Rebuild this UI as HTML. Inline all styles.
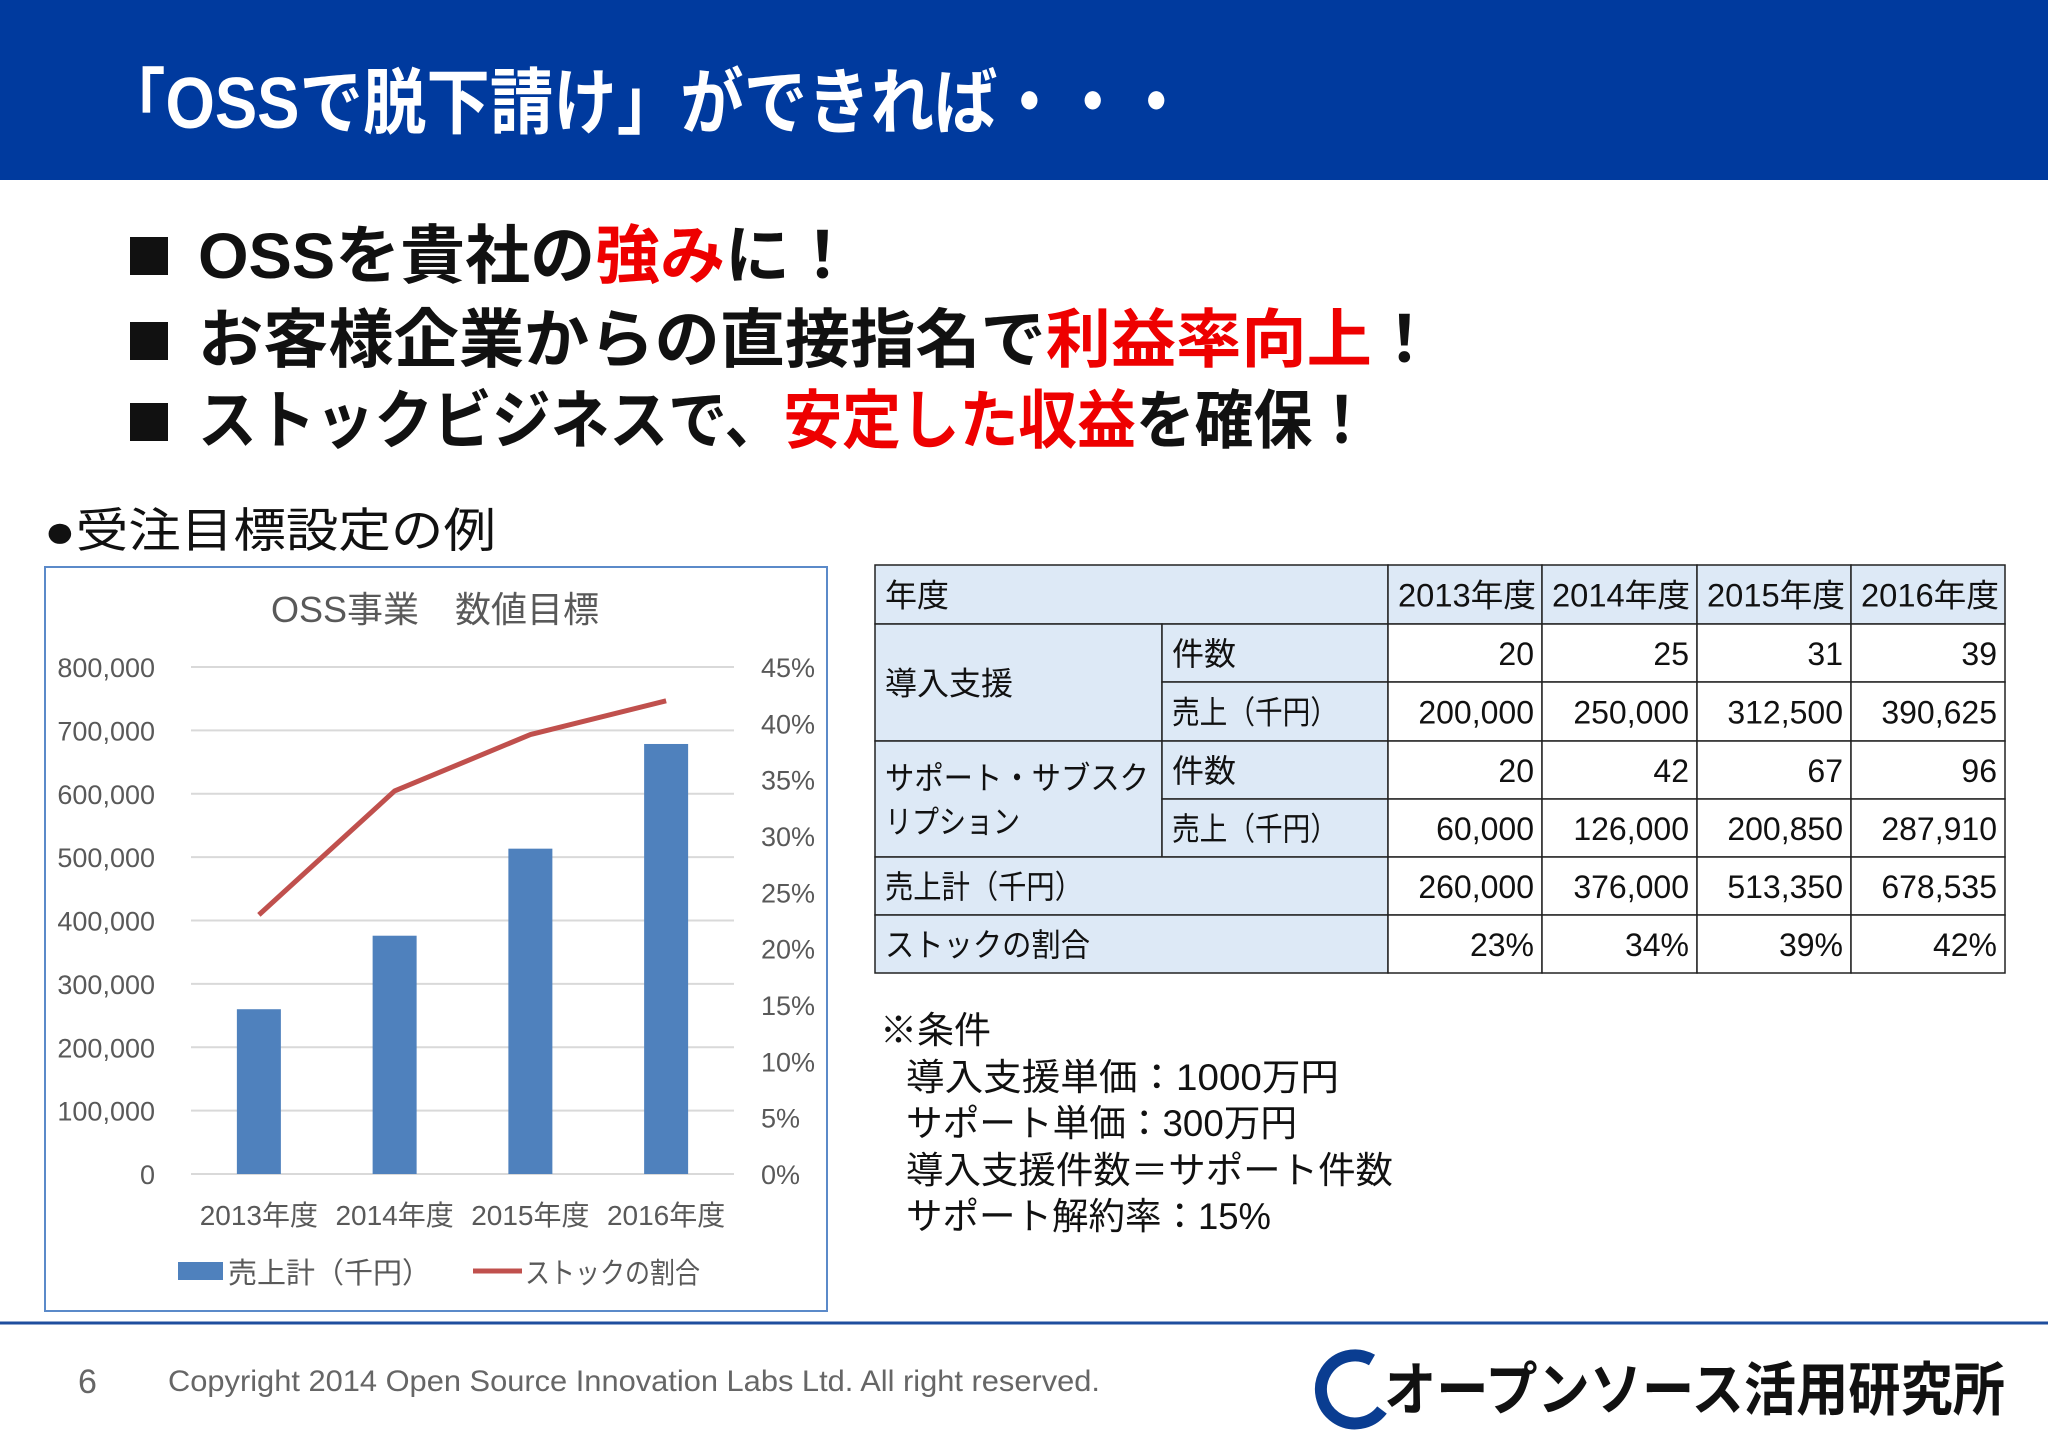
<!DOCTYPE html>
<html><head><meta charset="utf-8"><style>
html,body{margin:0;padding:0;background:#fff}
svg{display:block}
text{font-family:"Liberation Sans","Noto Sans CJK JP",sans-serif}
</style></head><body>
<svg id="page" width="2048" height="1447" viewBox="0 0 2048 1447" xmlns="http://www.w3.org/2000/svg">
<rect x="0" y="0" width="2048" height="180" fill="#003a9e"/>
<text x="102" y="128" font-size="72" font-weight="bold" fill="#fff" textLength="1086" lengthAdjust="spacingAndGlyphs">「OSSで脱下請け」ができれば・・・</text>

<g font-size="64" font-weight="bold" fill="#111">
<rect x="130" y="237" width="38" height="38" fill="#111"/>
<text x="198" y="278" textLength="657" lengthAdjust="spacingAndGlyphs">OSSを貴社の<tspan fill="#e00">強み</tspan>に！</text>
<rect x="130" y="322" width="38" height="38" fill="#111"/>
<text x="198" y="362" textLength="1239" lengthAdjust="spacingAndGlyphs">お客様企業からの直接指名で<tspan fill="#e00">利益率向上</tspan>！</text>
<rect x="130" y="403" width="38" height="38" fill="#111"/>
<text x="198" y="443" textLength="1173" lengthAdjust="spacingAndGlyphs">ストックビジネスで、<tspan fill="#e00">安定した収益</tspan>を確保！</text>
</g>
<text x="44" y="547" font-size="47" fill="#111" textLength="452" lengthAdjust="spacingAndGlyphs">●受注目標設定の例</text>

<rect x="45" y="567" width="782" height="744" fill="#fff" stroke="#5b8ac9" stroke-width="2"/>
<text x="435" y="622" font-size="36" fill="#595959" text-anchor="middle">OSS事業　数値目標</text>
<g id="chart"></g>
<g>
<rect x="178" y="1262" width="45" height="18" fill="#4f81bd"/>
<text x="228" y="1283" font-size="29" fill="#595959">売上計（千円）</text>
<line x1="473" y1="1271" x2="522" y2="1271" stroke="#c0504d" stroke-width="5"/>
<text x="525" y="1283" font-size="29" fill="#595959" textLength="175" lengthAdjust="spacingAndGlyphs">ストックの割合</text>
</g>

<g id="table"></g>

<g font-size="37" fill="#111">
<text x="880" y="1043">※条件</text>
<text x="906" y="1090" textLength="433" lengthAdjust="spacingAndGlyphs">導入支援単価：1000万円</text>
<text x="906" y="1136" textLength="391" lengthAdjust="spacingAndGlyphs">サポート単価：300万円</text>
<text x="906" y="1183" textLength="487" lengthAdjust="spacingAndGlyphs">導入支援件数＝サポート件数</text>
<text x="906" y="1229" textLength="365" lengthAdjust="spacingAndGlyphs">サポート解約率：15%</text>
</g>

<line x1="0" y1="1323" x2="2048" y2="1323" stroke="#1f4e9e" stroke-width="3"/>
<text x="78" y="1393" font-size="34" fill="#666">6</text>
<text x="168" y="1391" font-size="30" fill="#666" textLength="932" lengthAdjust="spacingAndGlyphs">Copyright 2014 Open Source Innovation Labs Ltd. All right reserved.</text>
<g>
<path d="M1372 1360 A34 34 0 1 0 1382 1410" fill="none" stroke="#0a3d91" stroke-width="12"/>
<text x="1384" y="1410" font-size="58" font-weight="bold" fill="#111" textLength="621" lengthAdjust="spacingAndGlyphs">オープンソース活用研究所</text>
</g>
</svg>
<script>
const categories=["2013年度","2014年度","2015年度","2016年度"];
const salesValues=[260000,376000,513350,678535];
const stockRatio=[0.23,0.34,0.39,0.42];
const leftTicks=[0,100000,200000,300000,400000,500000,600000,700000,800000];
const rightTicks=[0,0.05,0.10,0.15,0.20,0.25,0.30,0.35,0.40,0.45];

const NS="http://www.w3.org/2000/svg";
const g=document.getElementById('chart');
const X0=191,X1=734,Y0=1174,Y1=667;
const yL=v=>Y0-(v/800000)*(Y0-Y1);
const yR=v=>Y0-(v/0.45)*(Y0-Y1);
const band=(X1-X0)/categories.length;
const xC=i=>X0+band*(i+0.5);
function mk(t,a,p){const e=document.createElementNS(NS,t);for(const k in a)e.setAttribute(k,a[k]);(p||g).appendChild(e);return e;}
leftTicks.forEach(v=>{
 const l=mk('line',{x1:X0,x2:X1,y1:yL(v),y2:yL(v),stroke:'#d9d9d9','stroke-width':2});
 
 
 const t=mk('text',{x:155,y:yL(v)+10,'font-size':27,fill:'#595959','text-anchor':'end'});
 t.textContent=v.toLocaleString('en-US');
 
 
});
rightTicks.forEach(v=>{
 const t=mk('text',{x:761,y:yR(v)+10,'font-size':27,fill:'#595959'});
 t.textContent=Math.round(v*100)+'%';
 
 
});
categories.forEach((c,i)=>{
 const b=mk('rect',{x:xC(i)-22,y:yL(salesValues[i]),width:44,height:Y0-yL(salesValues[i]),fill:'#4f81bd'});
 
 
 const t=mk('text',{x:xC(i),y:1225,'font-size':28,fill:'#595959','text-anchor':'middle'});
 t.textContent=c;
 
 
});
const line=mk('polyline',{points:stockRatio.map((v,i)=>xC(i)+','+yR(v)).join(' '),fill:'none',stroke:'#c0504d','stroke-width':5,'stroke-linejoin':'round'});



const tg=document.getElementById('table');
const cx=[875,1162,1388,1542,1697,1851,2005];
const ry=[565,624,682,741,799,857,915,973];
const hdrs=["2013年度","2014年度","2015年度","2016年度"];
const rows=[["20","25","31","39"],["200,000","250,000","312,500","390,625"],["20","42","67","96"],["60,000","126,000","200,850","287,910"],["260,000","376,000","513,350","678,535"],["23%","34%","39%","42%"]];
const LB='#dde9f6';
function cell(x1,y1,x2,y2,fill,txt,align,name,fit){
 const r=mk('rect',{x:x1,y:y1,width:x2-x1,height:y2-y1,fill:fill,stroke:'#222','stroke-width':1.5},tg);
 
 
 if(txt){
  const lines=txt.split('\n');
  lines.forEach((s,k)=>{
   const yy=(y1+y2)/2+12+(k-(lines.length-1)/2)*44;
   const a={x:align==='end'?x2-8:x1+10,y:yy,'font-size':32,fill:'#111','text-anchor':align};
   if(fit&&fit[k]){a.textLength=fit[k];a.lengthAdjust='spacingAndGlyphs';}
   const t=mk('text',a,tg);
   t.textContent=s;
   
   
  });
 }
}
cell(cx[0],ry[0],cx[2],ry[1],LB,'年度','start','header-year-label');
hdrs.forEach((h,i)=>cell(cx[2+i],ry[0],cx[3+i],ry[1],LB,h,'start','header-'+h,[138]));
cell(cx[0],ry[1],cx[1],ry[3],LB,'導入支援','start','row-intro-label');
cell(cx[1],ry[1],cx[2],ry[2],LB,'件数','start','intro-count-label');
cell(cx[1],ry[2],cx[2],ry[3],LB,'売上（千円）','start','intro-sales-label',[166]);
cell(cx[0],ry[3],cx[1],ry[5],LB,'サポート・サブスク\nリプション','start','row-support-label',[264,135]);
cell(cx[1],ry[3],cx[2],ry[4],LB,'件数','start','support-count-label');
cell(cx[1],ry[4],cx[2],ry[5],LB,'売上（千円）','start','support-sales-label',[166]);
cell(cx[0],ry[5],cx[2],ry[6],LB,'売上計（千円）','start','total-sales-label',[198]);
cell(cx[0],ry[6],cx[2],ry[7],LB,'ストックの割合','start','stock-ratio-label',[205]);
rows.forEach((r,ri)=>r.forEach((v,ci)=>cell(cx[2+ci],ry[1+ri],cx[3+ci],ry[2+ri],'#fff',v,'end','value')));
</script>
</body></html>
